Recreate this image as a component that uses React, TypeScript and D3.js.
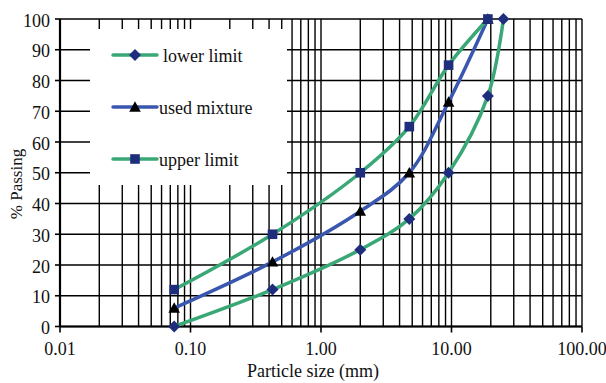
import React from "react";
import * as d3 from "d3";

const sizes = [0.075, 0.425, 2, 4.75, 9.5, 19, 25];
const lowerLimit = [0, 12, 25, 35, 50, 75, 100];
const usedSizes = [0.075, 0.425, 2, 4.75, 9.5, 19];
const usedMixture = [6, 21, 37.5, 50, 73, 100];
const upperSizes = [0.075, 0.425, 2, 4.75, 9.5, 19];
const upperLimit = [12, 30, 50, 65, 85, 100];
const xTicks = [0.01, 0.1, 1, 10, 100];
const yTicks = [0, 10, 20, 30, 40, 50, 60, 70, 80, 90, 100];

const GREEN = "#3aa876";
const BLUE = "#3a57b0";
const NAVY = "#1f2e7c";

export default function App() {
  const W = 606, H = 383;
  const x = d3.scaleLog().domain([0.01, 100]).range([60, 582]);
  const y = d3.scaleLinear().domain([0, 100]).range([326.5, 19]);
  const font = "Liberation Serif, Times New Roman, Times, serif";

  const minor: number[] = [];
  for (let e = -2; e < 2; e++) for (let m = 1; m <= 9; m++) minor.push(m * Math.pow(10, e));
  minor.push(100);

  const line = d3.line<[number, number]>()
    .x(d => x(d[0])).y(d => y(d[1]))
    .curve(d3.curveCatmullRom.alpha(0.5));

  const lowerData: [number, number][] = sizes.map((s, i) => [s, lowerLimit[i]]);
  const usedData: [number, number][] = usedSizes.map((s, i) => [s, usedMixture[i]]);
  const upperData: [number, number][] = upperSizes.map((s, i) => [s, upperLimit[i]]);

  const diamond = (cx: number, cy: number, r = 6) =>
    `M${cx},${cy - r}L${cx + r},${cy}L${cx},${cy + r}L${cx - r},${cy}Z`;
  const square = (cx: number, cy: number, r = 4.8) =>
    `M${cx - r},${cy - r}h${2 * r}v${2 * r}h${-2 * r}Z`;
  const tri = (cx: number, cy: number, r = 5.8) =>
    `M${cx},${cy - r}L${cx + r},${cy + r * 0.8}L${cx - r},${cy + r * 0.8}Z`;

  const lg = { x0: 90, x1: 287, y0: 29, y1: 185 };

  return (
    <svg width={W} height={H} style={{ position: "absolute", left: 0, top: 0, background: "#fff", fontFamily: font }}>
      {/* grid */}
      {minor.map((v, i) => (
        <line key={"v" + i} x1={x(v)} x2={x(v)} y1={y(0)} y2={y(100)} stroke="#000" strokeWidth={1.4} />
      ))}
      {yTicks.map((v, i) => (
        <line key={"h" + i} x1={x(0.01)} x2={x(100)} y1={y(v)} y2={y(v)} stroke="#000" strokeWidth={1.4} />
      ))}
      {/* legend box */}
      <rect x={lg.x0} y={lg.y0} width={lg.x1 - lg.x0} height={lg.y1 - lg.y0} fill="#fff" />
      {/* axes */}
      <line x1={x(0.01)} x2={x(0.01)} y1={y(0)} y2={y(100)} stroke="#000" strokeWidth={2.2} />
      <line x1={x(0.01)} x2={x(100)} y1={y(0)} y2={y(0)} stroke="#000" strokeWidth={2.2} />
      {yTicks.map((v, i) => (
        <g key={"yt" + i}>
          <line x1={x(0.01) - 5} x2={x(0.01)} y1={y(v)} y2={y(v)} stroke="#000" strokeWidth={1.6} />
          <text x={x(0.01) - 10} y={y(v)} dy="0.42em" textAnchor="end" fontSize={18} fill="#111">{v}</text>
        </g>
      ))}
      {xTicks.map((v, i) => (
        <g key={"xt" + i}>
          <line x1={x(v)} x2={x(v)} y1={y(0)} y2={y(0) + 6} stroke="#000" strokeWidth={1.6} />
          <text x={x(v)} y={y(0) + 28.5} textAnchor="middle" fontSize={18} fill="#111">{v.toFixed(2)}</text>
        </g>
      ))}
      <text x={313} y={377} textAnchor="middle" fontSize={18} fill="#111">Particle size (mm)</text>
      <text transform={`translate(22,184) rotate(-90)`} textAnchor="middle" fontSize={17} fill="#111">% Passing</text>

      {/* series */}
      <path d={line(lowerData) || ""} fill="none" stroke={GREEN} strokeWidth={3.5} />
      <path d={line(usedData) || ""} fill="none" stroke={BLUE} strokeWidth={3.5} />
      <path d={line(upperData) || ""} fill="none" stroke={GREEN} strokeWidth={3.5} />
      {lowerData.map((d, i) => <path key={"ld" + i} d={diamond(x(d[0]), y(d[1]))} fill={NAVY} />)}
      {usedData.map((d, i) => <path key={"ud" + i} d={tri(x(d[0]), y(d[1]))} fill="#000" />)}
      {upperData.map((d, i) => <path key={"pd" + i} d={square(x(d[0]), y(d[1]))} fill={NAVY} />)}

      {/* legend */}
      <line x1={113} x2={157} y1={55} y2={55} stroke={GREEN} strokeWidth={3.5} strokeLinecap="round" />
      <path d={diamond(135, 55)} fill={NAVY} />
      <text x={163} y={55} dy="0.38em" fontSize={18} fill="#111">lower limit</text>
      <line x1={113} x2={157} y1={107} y2={107} stroke={BLUE} strokeWidth={3.5} strokeLinecap="round" />
      <path d={tri(135, 107)} fill="#000" />
      <text x={159} y={107} dy="0.38em" fontSize={18} fill="#111">used mixture</text>
      <line x1={113} x2={157} y1={159} y2={159} stroke={GREEN} strokeWidth={3.5} strokeLinecap="round" />
      <path d={square(135, 159)} fill={NAVY} />
      <text x={159} y={159} dy="0.38em" fontSize={18} fill="#111">upper limit</text>
    </svg>
  );
}
